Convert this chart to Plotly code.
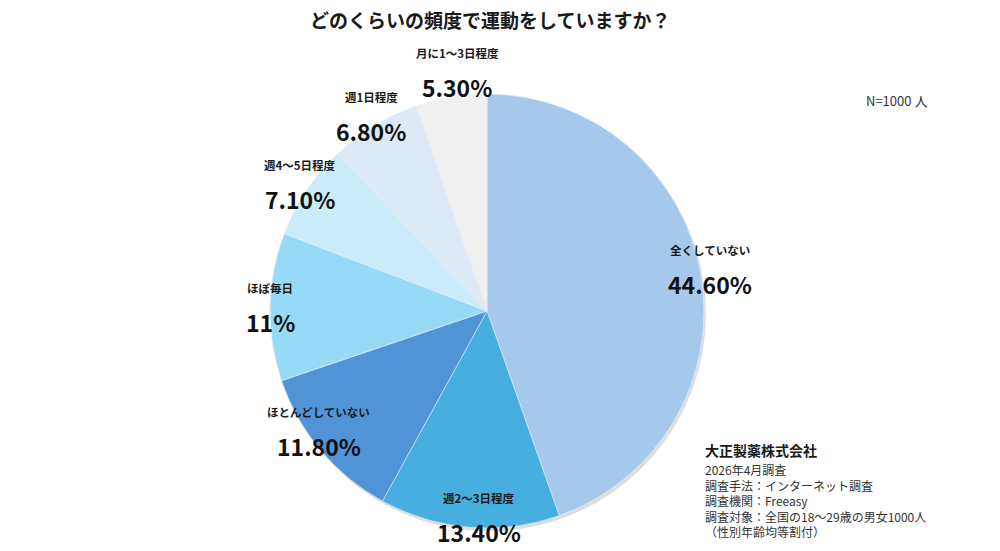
import math
import plotly.graph_objects as go

categories = ["全くしていない", "週2〜3日程度", "ほとんどしていない", "ほぼ毎日",
              "週4〜5日程度", "週1日程度", "月に1〜3日程度"]
values = [44.6, 13.4, 11.8, 11.0, 7.1, 6.8, 5.3]
pct_labels = ["44.60%", "13.40%", "11.80%", "11%", "7.10%", "6.80%", "5.30%"]
colors = ["#A6C9EB", "#46AFDF", "#5093D7", "#97DAF6", "#C9EBFA", "#DDE9F6", "#F0F0F0"]
label_radius = [1.047, 0.939, 0.947, 1.0, 1.047, 1.055, 1.119]
label_angle_offset = [-1.5, -2.4, 5.0, 0.6, 1.0, 0.9, 2.5]

W, H = 1000, 551
cx, cy, R = 487, 311, 217
FONT = "Noto Sans CJK JP"

dom_x = [(cx - R) / W, (cx + R) / W]
dom_y = [1 - (cy + R) / H, 1 - (cy - R) / H]

fig = go.Figure()
# soft shadow
fig.add_trace(go.Pie(
    values=values, labels=categories, sort=False, direction="clockwise", rotation=0,
    marker=dict(colors=["#DEDEDE"] * len(values), line=dict(width=0)),
    textinfo="none", hoverinfo="skip", showlegend=False,
    domain=dict(x=[dom_x[0] + 2 / W, dom_x[1] + 2 / W], y=[dom_y[0] - 3 / H, dom_y[1] - 3 / H]),
))
fig.add_trace(go.Pie(
    values=values, labels=categories, sort=False, direction="clockwise", rotation=0,
    marker=dict(colors=colors, line=dict(color="#E8EEF5", width=0.6)),
    textinfo="none", showlegend=False,
    domain=dict(x=dom_x, y=dom_y),
))

total = sum(values)
cum = 0.0
annotations = []
for cat, v, p, rf, off in zip(categories, values, pct_labels, label_radius, label_angle_offset):
    mid = (cum + v / 2) / total * 2 * math.pi + math.radians(off)
    cum += v
    px = cx + rf * R * math.sin(mid)
    py = cy - rf * R * math.cos(mid)
    ax_ = px / W
    ay_ = 1 - py / H
    annotations.append(dict(x=ax_, y=ay_, xref="paper", yref="paper", text=f"<b>{cat}</b>",
                            showarrow=False, yshift=17, xanchor="center", yanchor="middle",
                            font=dict(family=FONT, size=11.5, color="#1a1a1a")))
    annotations.append(dict(x=ax_, y=ay_, xref="paper", yref="paper", text=f"<b>{p}</b>",
                            showarrow=False, yshift=-17, xanchor="center", yanchor="middle",
                            font=dict(family=FONT, size=23, color="#111111")))

annotations.append(dict(x=490 / W, y=1 - 20 / H, xref="paper", yref="paper",
                        text="<b>どのくらいの頻度で運動をしていますか？</b>", showarrow=False,
                        xanchor="center", yanchor="middle",
                        font=dict(family=FONT, size=19, color="#1a1a1a")))
annotations.append(dict(x=896 / W, y=1 - 100 / H, xref="paper", yref="paper",
                        text="N=1000 人", showarrow=False, xanchor="center", yanchor="middle",
                        font=dict(family=FONT, size=13, color="#333333")))
annotations.append(dict(x=703 / W, y=1 - 450 / H, xref="paper", yref="paper",
                        text="<b>大正製薬株式会社</b>", showarrow=False, xanchor="left", yanchor="middle",
                        font=dict(family=FONT, size=14, color="#1a1a1a")))
info_lines = ["2026年4月調査", "調査手法：インターネット調査", "調査機関：Freeasy",
              "調査対象：全国の18〜29歳の男女1000人", "（性別年齢均等割付）"]
annotations.append(dict(x=703 / W, y=1 - 459 / H, xref="paper", yref="paper",
                        text="<br>".join(info_lines), showarrow=False, xanchor="left", yanchor="top",
                        align="left", font=dict(family=FONT, size=12, color="#333333")))

fig.update_layout(
    width=W, height=H, margin=dict(l=0, r=0, t=0, b=0),
    paper_bgcolor="white", plot_bgcolor="white",
    annotations=annotations, showlegend=False,
)
fig.write_html("out.html", config={"displayModeBar": False},
               post_script="document.body.style.margin='0';")
